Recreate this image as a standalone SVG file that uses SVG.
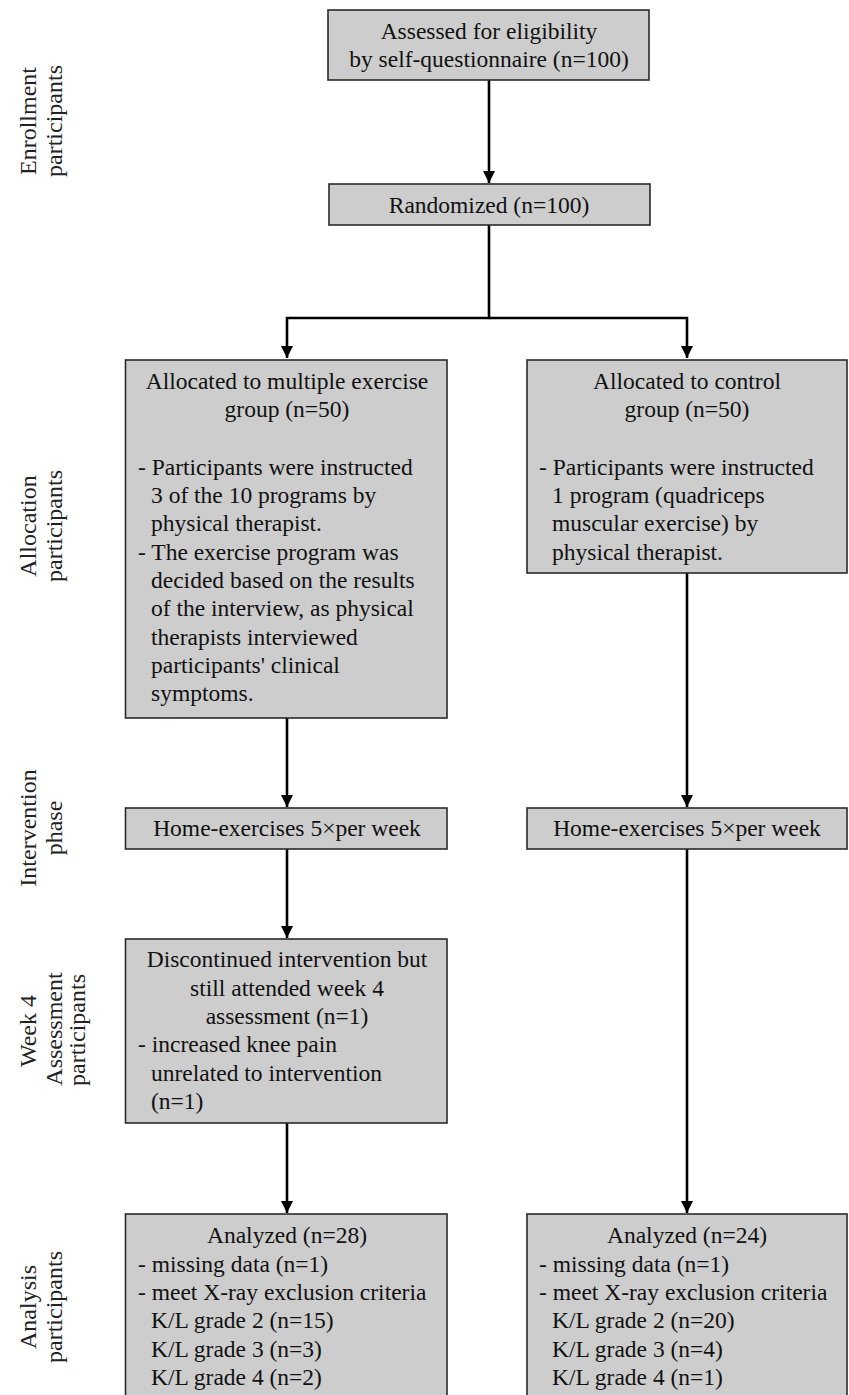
<svg xmlns="http://www.w3.org/2000/svg" width="849" height="1395" viewBox="0 0 849 1395">
<defs>
<style>
.box{fill:#cdcdcd;stroke:#2a2a2a;stroke-width:1.6}
.t{font-family:"Liberation Serif","DejaVu Serif",serif;font-size:23.5px;fill:#111}
.c{text-anchor:middle}
.lab{font-family:"Liberation Serif","DejaVu Serif",serif;font-size:24px;fill:#222;text-anchor:middle}
.con{fill:none;stroke:#000;stroke-width:2.6}
</style>
<marker id="arr" markerUnits="userSpaceOnUse" markerWidth="12" markerHeight="14" viewBox="0 0 12 14" refX="12" refY="6" orient="auto">
<path d="M0 0 L12 6 L0 12 Z" fill="#000"/>
</marker>
</defs>
<rect width="849" height="1395" fill="#fff"/>

<g id="labels">
<text class="lab" transform="translate(36,121) rotate(-90)">Enrollment</text>
<text class="lab" transform="translate(62,121) rotate(-90)">participants</text>
<text class="lab" transform="translate(36,526) rotate(-90)">Allocation</text>
<text class="lab" transform="translate(62,526) rotate(-90)">participants</text>
<text class="lab" transform="translate(36,828) rotate(-90)">Intervention</text>
<text class="lab" transform="translate(62,828) rotate(-90)">phase</text>
<text class="lab" transform="translate(36,1031) rotate(-90)">Week 4</text>
<text class="lab" transform="translate(62,1029) rotate(-90)">Assessment</text>
<text class="lab" transform="translate(85,1030) rotate(-90)">participants</text>
<text class="lab" transform="translate(36,1307) rotate(-90)">Analysis</text>
<text class="lab" transform="translate(62,1307) rotate(-90)">participants</text>
</g>

<g id="connectors">
<path class="con" d="M489 80 V183" marker-end="url(#arr)"/>
<path class="con" d="M489 225 V318 H287 V358" marker-end="url(#arr)"/>
<path class="con" d="M489 318 H687 V358" marker-end="url(#arr)"/>
<path class="con" d="M287 718 V807" marker-end="url(#arr)"/>
<path class="con" d="M687 573 V807" marker-end="url(#arr)"/>
<path class="con" d="M287 849 V938" marker-end="url(#arr)"/>
<path class="con" d="M287 1123 V1213" marker-end="url(#arr)"/>
<path class="con" d="M687 849 V1213" marker-end="url(#arr)"/>
</g>

<g id="assessed">
<rect class="box" x="328" y="10" width="321" height="70"/>
<text class="t c" x="489" y="39">Assessed  for eligibility</text>
<text class="t c" x="489" y="67">by self-questionnaire (n=100)</text>
</g>

<g id="randomized">
<rect class="box" x="329" y="184" width="321" height="41"/>
<text class="t c" x="489" y="213">Randomized (n=100)</text>
</g>

<g id="alloc-exercise">
<rect class="box" x="125.5" y="360" width="321.5" height="358"/>
<text class="t c" x="287" y="389">Allocated to multiple exercise</text>
<text class="t c" x="287" y="417">group (n=50)</text>
<text class="t" x="138" y="475">- Participants were instructed</text>
<text class="t" x="151" y="503">3 of the 10 programs by</text>
<text class="t" x="151" y="531">physical therapist.</text>
<text class="t" x="138" y="560">- The exercise program was</text>
<text class="t" x="151" y="588">decided based on the results</text>
<text class="t" x="151" y="616">of the interview, as physical</text>
<text class="t" x="151" y="645">therapists interviewed</text>
<text class="t" x="151" y="673">participants' clinical</text>
<text class="t" x="151" y="701">symptoms.</text>
</g>

<g id="alloc-control">
<rect class="box" x="527" y="360" width="320" height="213"/>
<text class="t c" x="687" y="389">Allocated to control</text>
<text class="t c" x="687" y="417">group (n=50)</text>
<text class="t" x="539" y="475">- Participants were instructed</text>
<text class="t" x="552" y="503">1 program (quadriceps</text>
<text class="t" x="552" y="531">muscular exercise) by</text>
<text class="t" x="552" y="560">physical therapist.</text>
</g>

<g id="home-left">
<rect class="box" x="125.5" y="808" width="321.5" height="41"/>
<text class="t c" x="287" y="836">Home-exercises 5×per week</text>
</g>

<g id="home-right">
<rect class="box" x="527" y="808" width="320" height="41"/>
<text class="t c" x="687" y="836">Home-exercises 5×per week</text>
</g>

<g id="week4">
<rect class="box" x="125.5" y="939" width="321.5" height="184"/>
<text class="t c" x="287" y="967">Discontinued intervention but</text>
<text class="t c" x="287" y="996">still attended week 4</text>
<text class="t c" x="287" y="1024">assessment (n=1)</text>
<text class="t" x="138" y="1052">- increased knee pain</text>
<text class="t" x="151" y="1081">unrelated to intervention</text>
<text class="t" x="151" y="1109">(n=1)</text>
</g>

<g id="analyzed-left">
<rect class="box" x="125.5" y="1214" width="321.5" height="200"/>
<text class="t c" x="287" y="1243">Analyzed (n=28)</text>
<text class="t" x="138" y="1272">- missing data (n=1)</text>
<text class="t" x="138" y="1300">- meet X-ray exclusion criteria</text>
<text class="t" x="151" y="1328">K/L grade 2 (n=15)</text>
<text class="t" x="151" y="1357">K/L grade 3 (n=3)</text>
<text class="t" x="151" y="1385">K/L grade 4 (n=2)</text>
</g>

<g id="analyzed-right">
<rect class="box" x="527" y="1214" width="320" height="200"/>
<text class="t c" x="687" y="1243">Analyzed (n=24)</text>
<text class="t" x="539" y="1272">- missing data (n=1)</text>
<text class="t" x="539" y="1300">- meet X-ray exclusion criteria</text>
<text class="t" x="552" y="1328">K/L grade 2 (n=20)</text>
<text class="t" x="552" y="1357">K/L grade 3 (n=4)</text>
<text class="t" x="552" y="1385">K/L grade 4 (n=1)</text>
</g>
</svg>
